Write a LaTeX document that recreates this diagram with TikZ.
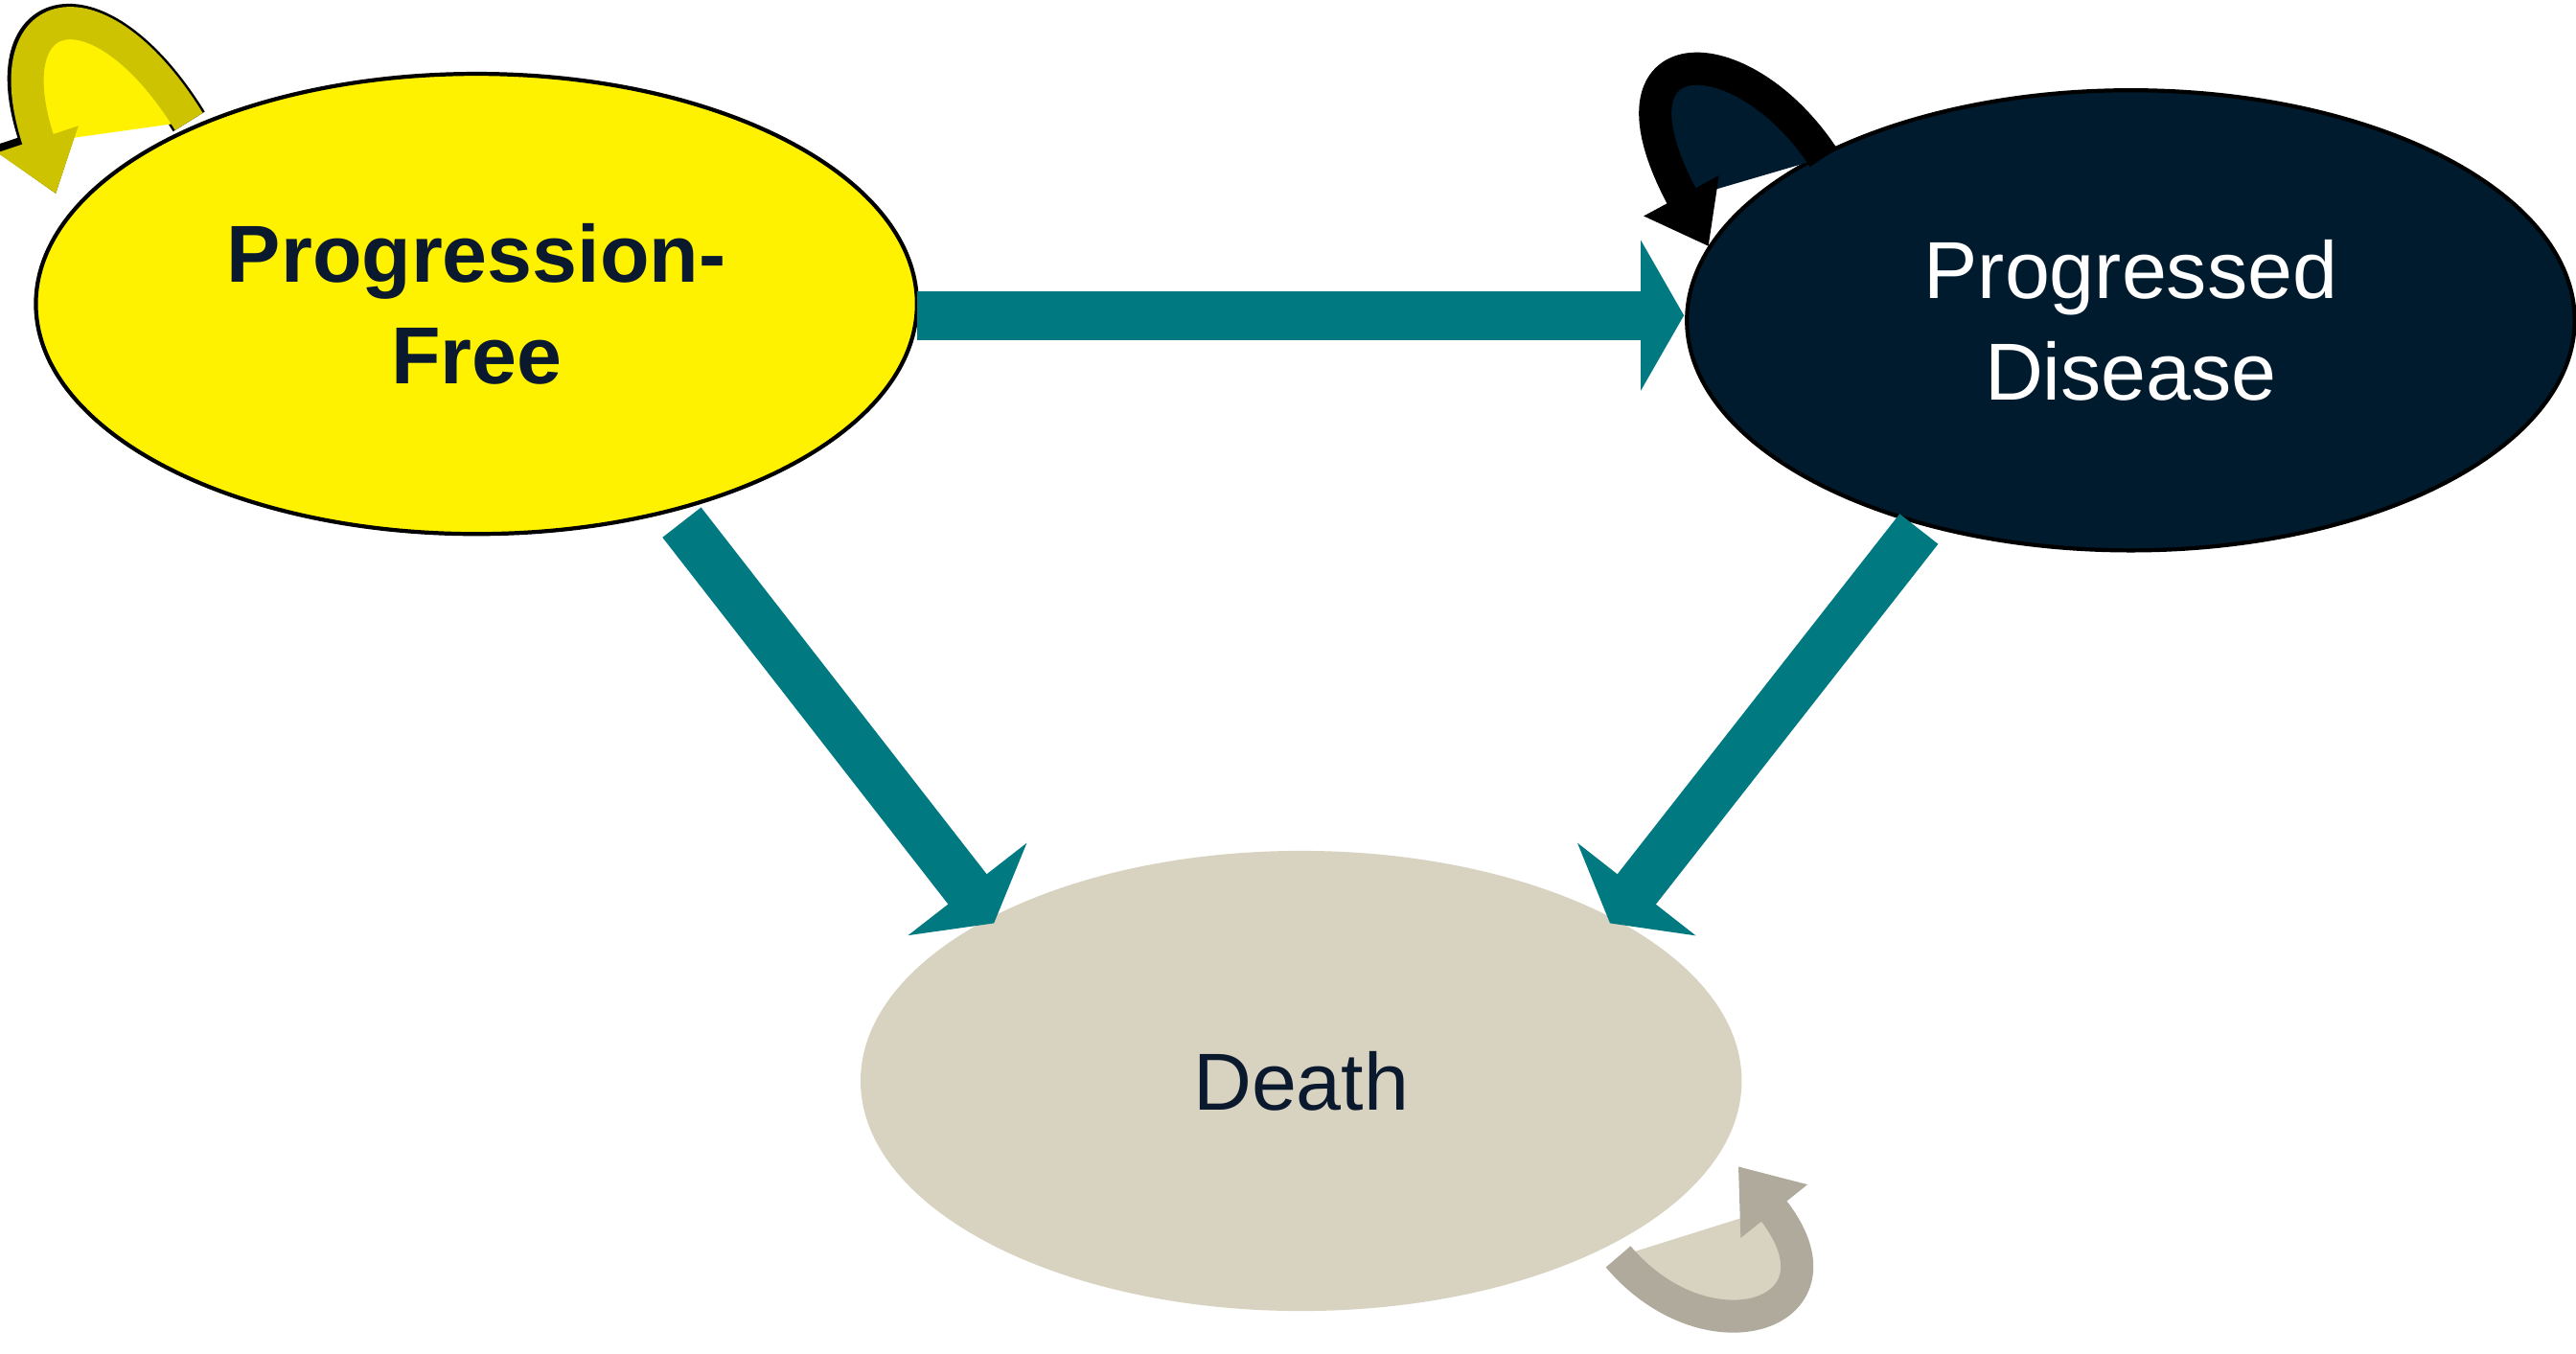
\documentclass[tikz,border=0pt]{standalone}
\usepackage{fontspec}
\setmainfont{Liberation Sans}
\usetikzlibrary{arrows.meta}
\definecolor{pfy}{RGB}{255,242,0}
\definecolor{pfo}{RGB}{205,195,0}
\definecolor{pdn}{RGB}{0,27,46}
\definecolor{dbg}{RGB}{216,210,192}
\definecolor{dgr}{RGB}{175,170,155}
\definecolor{teal}{RGB}{0,122,128}
\definecolor{txt}{RGB}{10,25,45}
\begin{document}
\begin{tikzpicture}[x=0.01714cm,y=-0.01714cm,
  state/.style={ellipse,draw=black,line width=1.2pt,minimum width=9.19cm,minimum height=4.8cm,align=center,font=\fontsize{24}{30}\selectfont},
  flow/.style={draw=teal,line width=0.51cm,-{Triangle[width=1.55cm,length=0.45cm]}},
  loop/.style={line width=0.34cm,-{Triangle[width=0.85cm,length=0.6cm]}}]
\useasboundingbox (0,0) rectangle (1568,824);
\usetikzlibrary{shapes.geometric}
\node[state,fill=pfy,text=txt,font=\fontsize{24}{30}\selectfont\bfseries] (pf) at (290,185) {Progression-\\Free};
\node[state,fill=pdn,text=white,minimum width=9.26cm] (pd) at (1297,195) {Progressed\\Disease};
\node[state,fill=dbg,draw=none,text=txt] (d) at (792,658) {Death};
\coordinate (pfb) at (415,318);
\coordinate (dl) at (605,562);
\coordinate (pdb) at (1168,322);
\coordinate (dr) at (980,562);
\coordinate (pfe) at (558,192);
\coordinate (pdw) at (1025,192);
\draw[flow] (pfe) -- (pdw);
\draw[flow] (pfb) -- (dl);
\draw[flow] (pdb) -- (dr);
\coordinate (l1s) at (115,74); \coordinate (l1e) at (34,118);
\draw[loop,draw=black,line width=0.39cm,-{Triangle[width=0.95cm,length=0.68cm]}] (l1s) .. controls (60,-15) and (-5,0) .. (l1e);
\draw[loop,draw=pfo,fill=pfy] (l1s) .. controls (60,-15) and (-5,0) .. (l1e);
\coordinate (l2s) at (1110,96); \coordinate (l2e) at (1040,150);
\draw[loop,draw=black,fill=pdn] (l2s) .. controls (1060,20) and (970,20) .. (l2e);
\coordinate (l3s) at (985,765); \coordinate (l3e) at (1058,710);
\draw[loop,draw=dgr,fill=dbg] (l3s) .. controls (1040,830) and (1130,800) .. (l3e);
\end{tikzpicture}
\end{document}
